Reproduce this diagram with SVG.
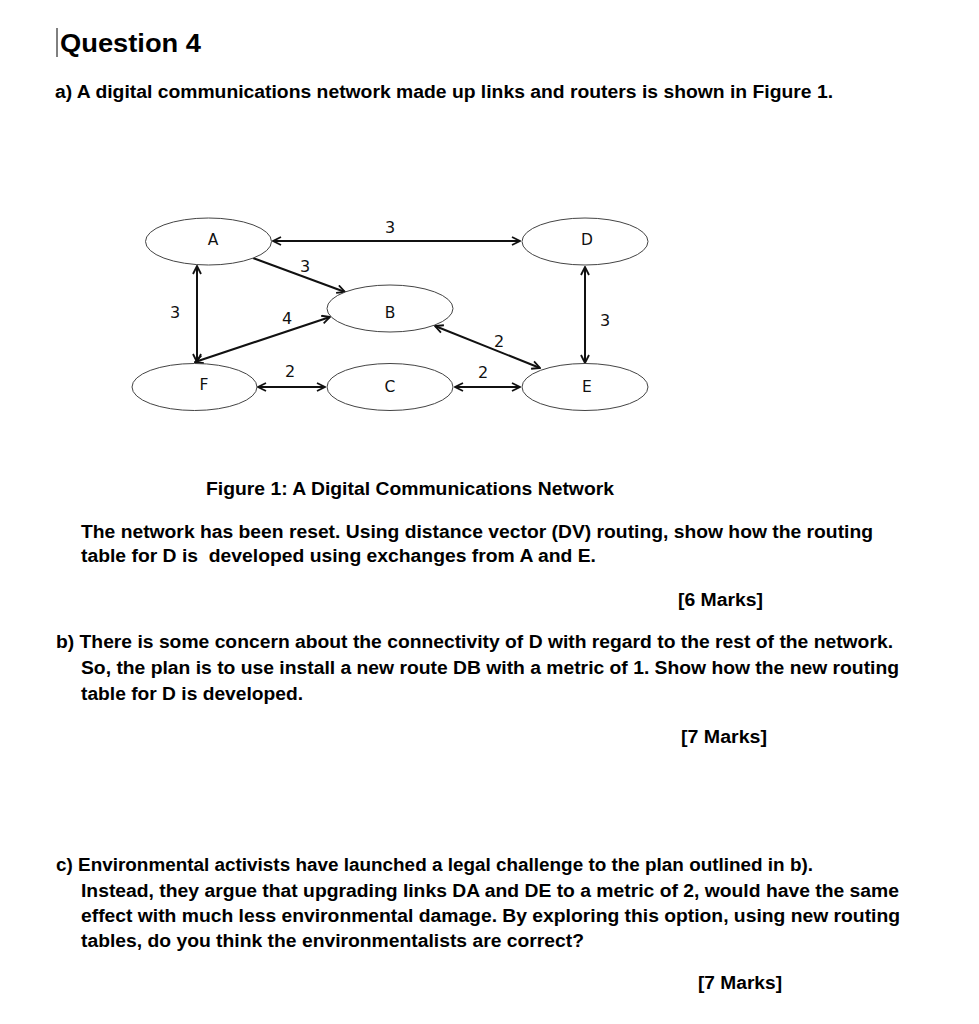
<svg xmlns="http://www.w3.org/2000/svg" width="979" height="1024" viewBox="0 0 979 1024">
<style>
.t{font-family:"Liberation Sans",Arial,sans-serif;font-weight:bold;font-size:18px;fill:#000}
.h{font-family:"Liberation Sans",Arial,sans-serif;font-weight:bold;font-size:25px;fill:#000}
.n ellipse{fill:#fff;stroke:#444;stroke-width:1}
.n text{font-family:"DejaVu Sans",Verdana,sans-serif;font-size:15.5px;fill:#111;text-anchor:middle}
.lbl{font-family:"DejaVu Sans",Verdana,sans-serif;font-size:16px;fill:#111;text-anchor:middle}
.e line{stroke:#111;stroke-width:2;fill:none}
</style>
<defs>
<marker id="ar" viewBox="0 0 10 10" refX="9" refY="5" markerWidth="10" markerHeight="10" markerUnits="userSpaceOnUse" orient="auto-start-reverse">
<path d="M1,1 L9,5 L1,9" fill="none" stroke="#111" stroke-width="1.8"/>
</marker>
</defs>
<rect width="979" height="1024" fill="#fff"/>
<line x1="57" y1="28" x2="57" y2="57" stroke="#000" stroke-width="1"/>
<text class="h" x="60" y="52" textLength="141" lengthAdjust="spacingAndGlyphs">Question 4</text>
<text class="t" x="55" y="98" textLength="778" lengthAdjust="spacingAndGlyphs">a) A digital communications network made up links and routers is shown in Figure 1.</text>

<g id="connectors" class="e">
<line x1="273" y1="241" x2="520" y2="241" marker-start="url(#ar)" marker-end="url(#ar)"/>
<line x1="253" y1="258" x2="345" y2="292" marker-end="url(#ar)"/>
<line x1="197" y1="266" x2="197" y2="362" marker-start="url(#ar)" marker-end="url(#ar)"/>
<line x1="195" y1="362" x2="330" y2="317" marker-start="url(#ar)" marker-end="url(#ar)"/>
<line x1="258" y1="387" x2="325" y2="387" marker-start="url(#ar)" marker-end="url(#ar)"/>
<line x1="435" y1="326" x2="540" y2="368" marker-start="url(#ar)" marker-end="url(#ar)"/>
<line x1="455" y1="387" x2="520" y2="387" marker-start="url(#ar)" marker-end="url(#ar)"/>
<line x1="585" y1="267" x2="585" y2="363" marker-start="url(#ar)" marker-end="url(#ar)"/>
<text class="lbl" x="390" y="233">3</text>
<text class="lbl" x="305" y="272">3</text>
<text class="lbl" x="175" y="318">3</text>
<text class="lbl" x="287" y="324">4</text>
<text class="lbl" x="290" y="377">2</text>
<text class="lbl" x="499" y="347">2</text>
<text class="lbl" x="483" y="378">2</text>
<text class="lbl" x="605" y="326">3</text>
</g>

<g id="node-A" class="n"><ellipse cx="208.5" cy="241.5" rx="63" ry="23.5"/><text x="213" y="245">A</text></g>
<g id="node-B" class="n"><ellipse cx="390" cy="308.5" rx="63" ry="23.5"/><text x="390" y="318">B</text></g>
<g id="node-F" class="n"><ellipse cx="194.5" cy="387" rx="62.5" ry="23.5"/><text x="204" y="390">F</text></g>
<g id="node-C" class="n"><ellipse cx="390" cy="387" rx="63" ry="23.5"/><text x="390" y="392">C</text></g>
<g id="node-D" class="n"><ellipse cx="585" cy="241.5" rx="63" ry="23.5"/><text x="587" y="245">D</text></g>
<g id="node-E" class="n"><ellipse cx="585" cy="387" rx="63" ry="23.5"/><text x="587" y="392">E</text></g>

<text class="t" x="206" y="495" textLength="408" lengthAdjust="spacingAndGlyphs">Figure 1: A Digital Communications Network</text>
<text class="t" x="81" y="538" textLength="792" lengthAdjust="spacingAndGlyphs">The network has been reset. Using distance vector (DV) routing, show how the routing</text>
<text class="t" x="81" y="562" textLength="515" lengthAdjust="spacingAndGlyphs" xml:space="preserve">table for D is  developed using exchanges from A and E.</text>
<text class="t" x="678" y="606" textLength="85" lengthAdjust="spacingAndGlyphs">[6 Marks]</text>
<text class="t" x="56" y="648" textLength="837" lengthAdjust="spacingAndGlyphs">b) There is some concern about the connectivity of D with regard to the rest of the network.</text>
<text class="t" x="81" y="674" textLength="818" lengthAdjust="spacingAndGlyphs">So, the plan is to use install a new route DB with a metric of 1. Show how the new routing</text>
<text class="t" x="81" y="700" textLength="222" lengthAdjust="spacingAndGlyphs">table for D is developed.</text>
<text class="t" x="681" y="743" textLength="86" lengthAdjust="spacingAndGlyphs">[7 Marks]</text>
<text class="t" x="56" y="871" textLength="757" lengthAdjust="spacingAndGlyphs">c) Environmental activists have launched a legal challenge to the plan outlined in b).</text>
<text class="t" x="81" y="897" textLength="818" lengthAdjust="spacingAndGlyphs">Instead, they argue that upgrading links DA and DE to a metric of 2, would have the same</text>
<text class="t" x="81" y="922" textLength="819" lengthAdjust="spacingAndGlyphs">effect with much less environmental damage. By exploring this option, using new routing</text>
<text class="t" x="81" y="947" textLength="503" lengthAdjust="spacingAndGlyphs">tables, do you think the environmentalists are correct?</text>
<text class="t" x="698" y="989" textLength="84" lengthAdjust="spacingAndGlyphs">[7 Marks]</text>
</svg>
